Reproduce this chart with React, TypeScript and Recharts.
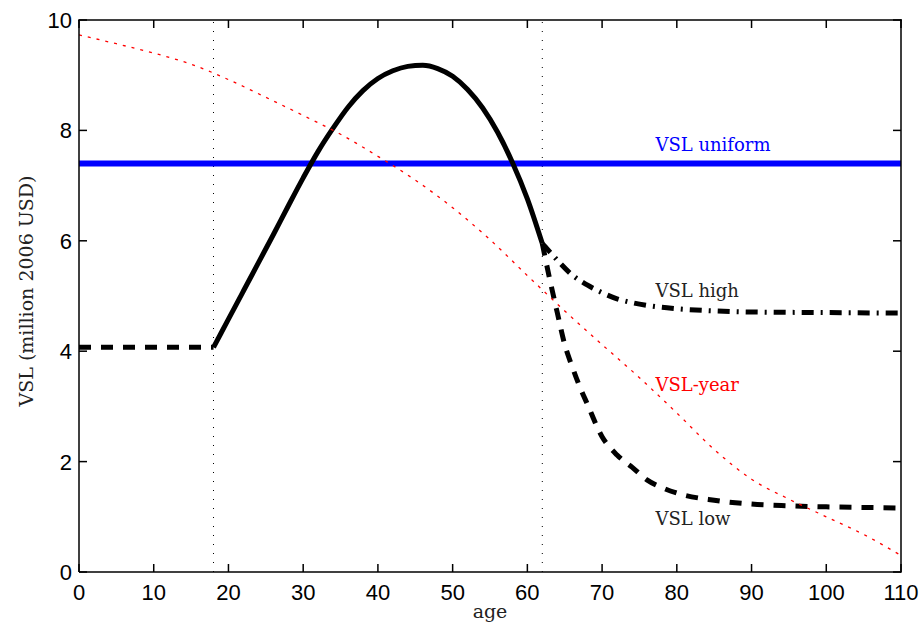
import React from "react";
import {
  LineChart,
  Line,
  XAxis,
  YAxis,
  ReferenceLine,
  ReferenceDot,
} from "recharts";

// ages and values
const uniformAges = [0, 110];
const uniformVsl = [7.4, 7.4];

const yearAges = [0, 5, 10, 15, 20, 25, 30, 35, 40, 45, 50, 55, 60, 65, 70, 75, 80, 85, 90, 95, 100, 105, 110];
const yearVsl = [9.73, 9.57, 9.4, 9.2, 8.92, 8.6, 8.27, 7.93, 7.53, 7.1, 6.6, 6.02, 5.37, 4.73, 4.12, 3.52, 2.88, 2.22, 1.68, 1.32, 1.0, 0.68, 0.3];

const youngAges = [0, 18];
const youngVsl = [4.07, 4.07];

const coreAges = [18, 20, 22, 24, 26, 28, 30, 32, 34, 36, 38, 40, 42, 44, 46, 48, 50, 52, 54, 56, 58, 60, 62];
const coreVsl = [4.07, 4.58, 5.09, 5.6, 6.11, 6.63, 7.14, 7.62, 8.04, 8.42, 8.72, 8.94, 9.08, 9.16, 9.18, 9.12, 8.98, 8.74, 8.41, 7.97, 7.42, 6.76, 5.95];

const lowAges = [62, 63, 64, 65, 66, 67, 68, 70, 72, 74, 76, 78, 80, 85, 90, 95, 100, 105, 110];
const lowVsl = [5.95, 5.3, 4.7, 4.12, 3.72, 3.36, 3.05, 2.45, 2.12, 1.9, 1.67, 1.53, 1.43, 1.3, 1.23, 1.2, 1.18, 1.17, 1.16];

const highAges = [62, 63, 64, 66, 68, 70, 72, 74, 76, 80, 85, 90, 100, 110];
const highVsl = [5.95, 5.8, 5.65, 5.38, 5.2, 5.06, 4.95, 4.88, 4.83, 4.77, 4.73, 4.71, 4.7, 4.69];

const markerAges = [18, 62];

const xTicks = [0, 10, 20, 30, 40, 50, 60, 70, 80, 90, 100, 110];
const yTicks = [0, 2, 4, 6, 8, 10];

const labels = [
  { text: "VSL uniform", x: 77, y: 7.74, color: "#0000ff" },
  { text: "VSL high", x: 77, y: 5.1, color: "#222" },
  { text: "VSL-year", x: 77, y: 3.39, color: "#ff0000" },
  { text: "VSL low", x: 77, y: 0.96, color: "#222" },
];

const toRows = (xs: number[], ys: number[]) => xs.map((age, i) => ({ age, v: ys[i] }));

const sans = "Liberation Sans, Arial, sans-serif";
const serif = "DejaVu Serif, serif";

const W = 924;
const H = 622;
const margin = { top: 20, right: 23, left: 0, bottom: 0 };
const xAxisH = 50;
const yAxisW = 79;
const plotW = W - yAxisW - margin.right;
const plotH = H - margin.top - xAxisH;
const tickLen = 8;
const lw = 1.5;

// inward ticks drawn as thin filled rects, mirrored on the opposite side of the box
const BottomTick = ({ x, y, payload }: any) => (
  <g>
    <rect x={x - lw / 2} y={y - tickLen} width={lw} height={tickLen} fill="#000" />
    <rect x={x - lw / 2} y={y - plotH} width={lw} height={tickLen} fill="#000" />
    <text x={x} y={y + 28} textAnchor="middle" fontSize={22} fontFamily={sans} fill="#000">
      {payload.value}
    </text>
  </g>
);

const LeftTick = ({ x, y, payload }: any) => (
  <g>
    <rect x={x} y={y - lw / 2} width={tickLen} height={lw} fill="#000" />
    <rect x={x + plotW - tickLen} y={y - lw / 2} width={tickLen} height={lw} fill="#000" />
    <text x={x - 7} y={y + 8} textAnchor="end" fontSize={22} fontFamily={sans} fill="#000">
      {payload.value}
    </text>
  </g>
);

export default function App() {
  return (
    <div style={{ position: "absolute", left: 0, top: 0, width: W, height: H, background: "#fff" }}>
      <LineChart width={W} height={H} margin={margin}>
        <XAxis
          type="number"
          dataKey="age"
          domain={[0, 110]}
          ticks={xTicks}
          height={xAxisH}
          tickSize={0}
          tickMargin={0}
          tickLine={false}
          tick={<BottomTick />}
          axisLine={{ stroke: "#000", strokeWidth: 1.5 }}
          allowDataOverflow
        />
        <YAxis
          type="number"
          domain={[0, 10]}
          ticks={yTicks}
          width={yAxisW}
          tickSize={0}
          tickMargin={0}
          tickLine={false}
          tick={<LeftTick />}
          axisLine={{ stroke: "#000", strokeWidth: 1.5 }}
          allowDataOverflow
        />
        {markerAges.map((a) => (
          <ReferenceLine key={a} x={a} stroke="#000" strokeWidth={1} strokeDasharray="1 8" />
        ))}
        <Line
          data={toRows(uniformAges, uniformVsl)}
          dataKey="v"
          stroke="#0000ff"
          strokeWidth={6}
          dot={false}
          isAnimationActive={false}
        />
        <Line
          data={toRows(coreAges, coreVsl)}
          dataKey="v"
          type="monotone"
          stroke="#000"
          strokeWidth={5}
          dot={false}
          isAnimationActive={false}
        />
        <Line
          data={toRows(youngAges, youngVsl)}
          dataKey="v"
          stroke="#000"
          strokeWidth={5}
          strokeDasharray="12 10"
          dot={false}
          isAnimationActive={false}
        />
        <Line
          data={toRows(lowAges, lowVsl)}
          dataKey="v"
          type="monotone"
          stroke="#000"
          strokeWidth={5}
          strokeDasharray="12 10"
          dot={false}
          isAnimationActive={false}
        />
        <Line
          data={toRows(highAges, highVsl)}
          dataKey="v"
          type="monotone"
          stroke="#000"
          strokeWidth={5}
          strokeDasharray="12 7 2 7"
          dot={false}
          isAnimationActive={false}
        />
        <Line
          data={toRows(yearAges, yearVsl)}
          dataKey="v"
          type="monotone"
          stroke="#ff0000"
          strokeWidth={1.3}
          strokeDasharray="3 6"
          dot={false}
          isAnimationActive={false}
        />
        {labels.map((l) => (
          <ReferenceDot
            key={l.text}
            x={l.x}
            y={l.y}
            r={1}
            fill="none"
            stroke="none"
            label={{
              value: l.text,
              position: "right",
              offset: 0,
              fill: l.color,
              fontSize: 18,
              fontFamily: serif,
            }}
          />
        ))}
      </LineChart>
      <svg width={W} height={H} style={{ position: "absolute", left: 0, top: 0, pointerEvents: "none" }}>
        {/* top and right edges of the axes box, as filled strips */}
        <rect x={yAxisW - lw / 2} y={margin.top - lw / 2} width={plotW + lw} height={lw} fill="#000" />
        <rect x={yAxisW + plotW - lw / 2} y={margin.top - lw / 2} width={lw} height={plotH + lw} fill="#000" />
        <text x={490} y={618} textAnchor="middle" fontSize={19} fontFamily={serif} fill="#222">
          age
        </text>
        <text
          transform="translate(33 291) rotate(-90)"
          textAnchor="middle"
          fontSize={19}
          fontFamily={serif}
          fill="#222"
        >
          VSL (million 2006 USD)
        </text>
      </svg>
    </div>
  );
}
